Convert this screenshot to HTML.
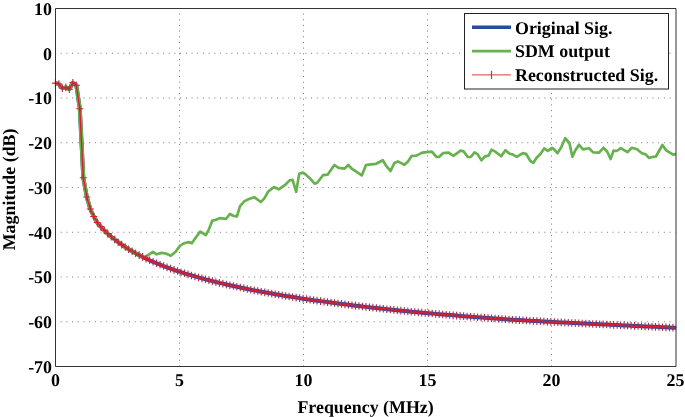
<!DOCTYPE html>
<html><head><meta charset="utf-8"><style>
html,body{margin:0;padding:0;background:#fff;}
body{width:685px;height:417px;overflow:hidden;}
svg{display:block;filter:blur(0.3px);}
text{text-rendering:geometricPrecision;font-family:"Liberation Serif",serif;font-weight:bold;fill:#000;}
</style></head><body>
<svg width="685" height="417" viewBox="0 0 685 417">
<rect width="685" height="417" fill="#fff"/>
<defs><clipPath id="c"><rect x="55" y="8" width="621" height="359"/></clipPath></defs>
<path d="M55.5 53.25H675.5M55.5 98H675.5M55.5 142.75H675.5M55.5 187.5H675.5M55.5 232.25H675.5M55.5 277H675.5M55.5 321.75H675.5" stroke="#777" stroke-width="1" stroke-dasharray="1 4.69" stroke-dashoffset="0.5" fill="none"/>
<path d="M179.5 8.5V366.5M303.5 8.5V366.5M427.5 8.5V366.5M551.5 8.5V366.5" stroke="#777" stroke-width="1" stroke-dasharray="1 4.675" stroke-dashoffset="0.6" fill="none"/>
<g clip-path="url(#c)" fill="none" stroke-linejoin="round" stroke-linecap="butt">
<path d="M55.4 83.1 L58.89 84 L62.38 88.3 L65.87 87.4 L69.36 89.2 L72.84 82.8 L76.33 85.3 L79.82 108.8 L83.31 177.8 L86.8 197 L90.29 209 L93.78 216.5 L97.27 222.44 L100.76 226.69 L104.25 230.31 L107.73 233.63 L111.22 236.69 L114.71 239.53 L118.2 242.18 L121.69 244.66 L125.18 246.99 L128.67 249.19 L132.16 251.27 L135.65 253.25 L139.14 255.12 L142.62 256.91 L146.11 258.62 L149.6 260.26 L153.09 261.8 L156.58 263.28 L160.07 264.7 L163.56 266.07 L167.05 267.38 L170.54 268.65 L174.03 269.88 L177.51 271.06 L181 272.21 L184.49 273.32 L187.98 274.39 L191.47 275.44 L194.96 276.45 L198.45 277.43 L201.94 278.39 L205.43 279.31 L208.92 280.22 L212.41 281.11 L215.89 281.99 L219.38 282.84 L222.87 283.67 L226.36 284.49 L229.85 285.28 L233.34 286.06 L236.83 286.81 L240.32 287.56 L243.81 288.28 L247.29 288.99 L250.78 289.69 L254.27 290.37 L257.76 291.04 L261.25 291.69 L264.74 292.33 L268.23 292.96 L271.72 293.58 L275.21 294.18 L278.7 294.77 L282.19 295.36 L285.67 295.93 L289.16 296.49 L292.65 297.04 L296.14 297.59 L299.63 298.12 L303.12 298.65 L306.61 299.16 L310.1 299.67 L313.59 300.17 L317.07 300.66 L320.56 301.14 L324.05 301.62 L327.54 302.09 L331.03 302.55 L334.52 303.01 L338.01 303.46 L341.5 303.91 L344.99 304.35 L348.48 304.79 L351.96 305.22 L355.45 305.64 L358.94 306.05 L362.43 306.46 L365.92 306.87 L369.41 307.27 L372.9 307.66 L376.39 308.05 L379.88 308.44 L383.37 308.82 L386.85 309.19 L390.34 309.56 L393.83 309.92 L397.32 310.28 L400.81 310.64 L404.3 310.99 L407.79 311.33 L411.28 311.68 L414.77 312.01 L418.26 312.33 L421.74 312.64 L425.23 312.96 L428.72 313.27 L432.21 313.57 L435.7 313.87 L439.19 314.17 L442.68 314.47 L446.17 314.76 L449.66 315.05 L453.15 315.33 L456.63 315.61 L460.12 315.89 L463.61 316.17 L467.1 316.44 L470.59 316.71 L474.08 316.97 L477.57 317.24 L481.06 317.49 L484.55 317.75 L488.04 318.01 L491.52 318.26 L495.01 318.51 L498.5 318.75 L501.99 318.99 L505.48 319.23 L508.97 319.47 L512.46 319.7 L515.95 319.91 L519.44 320.12 L522.93 320.32 L526.41 320.52 L529.9 320.72 L533.39 320.92 L536.88 321.11 L540.37 321.31 L543.86 321.5 L547.35 321.68 L550.84 321.87 L554.33 322.05 L557.82 322.23 L561.3 322.41 L564.79 322.59 L568.28 322.77 L571.77 322.94 L575.26 323.11 L578.75 323.28 L582.24 323.45 L585.73 323.61 L589.22 323.78 L592.71 323.94 L596.19 324.1 L599.68 324.26 L603.17 324.41 L606.66 324.57 L610.15 324.72 L613.64 324.89 L617.13 325.06 L620.62 325.23 L624.11 325.4 L627.6 325.57 L631.08 325.74 L634.57 325.91 L638.06 326.07 L641.55 326.24 L645.04 326.4 L648.53 326.56 L652.02 326.72 L655.51 326.87 L659 327.03 L662.49 327.18 L665.97 327.34 L669.46 327.49 L672.95 327.64 L676.44 327.79" stroke="#2c4a9c" stroke-width="4"/>
<path d="M55.4 83.1 L58.89 84 L62.38 88.3 L65.87 87.4 L69.36 89.2 L72.84 82.8 L76.33 85.3 L79.82 108.8 L83.31 177.8 L86.8 197 L90.29 209 L93.78 216.5 L97.27 222.44 L100.76 226.69 L104.25 230.31 L107.73 233.63 L111.22 236.69 L114.71 239.53 L118.2 242.18 L121.69 244.66 L125.18 246.99 L128.67 249.19 L132.16 251.27 L135.65 253.25 L139.14 255.12 L142.62 256.91" stroke="#66b24e" stroke-width="4"/>
<path d="M142.62 256.91 L145.9 256.7 L152.9 251.8 L156.7 254.3 L161.6 252.9 L165.9 253.5 L170.8 255.8 L175.6 251.8 L179.9 245.9 L184.2 243.2 L188.6 242.1 L191.8 243.2 L195.6 237.8 L200.2 231.6 L205.8 235 L208.8 229.6 L212.4 220.6 L215.4 220 L219.6 218.2 L226.2 218.8 L229.8 214 L233.4 215.8 L237 216.4 L240 206.2 L244.2 201.4 L249 199 L254.2 197.2 L260.8 202 L264.4 198.4 L268 191.8 L274 187 L278.8 189.4 L284.8 185.2 L289.6 180.4 L292.6 179.8 L296.2 191.8 L299.2 173.8 L302.8 172.6 L305 174 L309.8 178.2 L314.6 183.6 L317 183 L323 175.2 L327.8 174.6 L334.4 165 L338.6 167.8 L344.6 168.6 L348.2 165 L352.4 169.2 L355.4 171 L361.8 175.4 L366 165 L370.8 164.4 L376.2 163.8 L382.8 160.2 L386.4 166.2 L390.6 171 L394.2 163.2 L397.8 161.4 L404.4 164.8 L408 161.4 L411.6 156 L416.4 155.6 L422.2 152.6 L427 152.2 L431.8 151.6 L436.6 157 L439 157 L443.2 153 L448.6 152.6 L453.4 155.8 L460.6 150.6 L463.6 151.4 L467.8 157 L470.8 157 L474.6 152.4 L477.8 154.4 L481.4 160.4 L485 156.4 L488.6 155.6 L491.6 149.6 L495.2 151.6 L501.2 156.2 L505.4 150.2 L509.6 153.8 L512.6 154.4 L516.8 156.8 L522.8 153.2 L526 153.8 L530.4 161 L533.4 162.8 L536.4 158 L540.6 153.8 L544.2 148.4 L547.8 150.8 L552 147.8 L554.4 149.6 L557.4 153.2 L561 147.8 L565.2 138.2 L569.4 143 L572.4 156.8 L575.4 150.2 L579 144.8 L583 149.4 L589 148.2 L593.2 152.4 L599.2 152.6 L603.4 147.8 L607 151.2 L610.6 159 L613.6 150.6 L616.6 151 L620.8 148.2 L627.4 152.2 L631.8 147.8 L637 149.2 L641.9 153.3 L645.7 154.4 L648.9 157.9 L651.6 157.2 L655.9 156.5 L662.4 145 L666.2 150.4 L673.2 154.7 L676 153.9" stroke="#66b24e" stroke-width="2.7"/>
<path d="M55.4 83.1 L58.89 84 L62.38 88.3 L65.87 87.4 L69.36 89.2 L72.84 82.8 L76.33 85.3 L79.82 108.8 L83.31 177.8 L86.8 197 L90.29 209 L93.78 216.5 L97.27 222.44 L100.76 226.69 L104.25 230.31 L107.73 233.63 L111.22 236.69 L114.71 239.53 L118.2 242.18 L121.69 244.66 L125.18 246.99 L128.67 249.19 L132.16 251.27 L135.65 253.25 L139.14 255.12 L142.62 256.91 L146.11 258.62 L149.6 260.26 L153.09 261.8 L156.58 263.28 L160.07 264.7 L163.56 266.07 L167.05 267.38 L170.54 268.65 L174.03 269.88 L177.51 271.06 L181 272.21 L184.49 273.32 L187.98 274.39 L191.47 275.44 L194.96 276.45 L198.45 277.43 L201.94 278.39 L205.43 279.31 L208.92 280.22 L212.41 281.11 L215.89 281.99 L219.38 282.84 L222.87 283.67 L226.36 284.49 L229.85 285.28 L233.34 286.06 L236.83 286.81 L240.32 287.56 L243.81 288.28 L247.29 288.99 L250.78 289.69 L254.27 290.37 L257.76 291.04 L261.25 291.69 L264.74 292.33 L268.23 292.96 L271.72 293.58 L275.21 294.18 L278.7 294.77 L282.19 295.36 L285.67 295.93 L289.16 296.49 L292.65 297.04 L296.14 297.59 L299.63 298.12 L303.12 298.65 L306.61 299.16 L310.1 299.67 L313.59 300.17 L317.07 300.66 L320.56 301.14 L324.05 301.62 L327.54 302.09 L331.03 302.55 L334.52 303.01 L338.01 303.46 L341.5 303.91 L344.99 304.35 L348.48 304.79 L351.96 305.22 L355.45 305.64 L358.94 306.05 L362.43 306.46 L365.92 306.87 L369.41 307.27 L372.9 307.66 L376.39 308.05 L379.88 308.44 L383.37 308.82 L386.85 309.19 L390.34 309.56 L393.83 309.92 L397.32 310.28 L400.81 310.64 L404.3 310.99 L407.79 311.33 L411.28 311.68 L414.77 312.01 L418.26 312.33 L421.74 312.64 L425.23 312.96 L428.72 313.27 L432.21 313.57 L435.7 313.87 L439.19 314.17 L442.68 314.47 L446.17 314.76 L449.66 315.05 L453.15 315.33 L456.63 315.61 L460.12 315.89 L463.61 316.17 L467.1 316.44 L470.59 316.71 L474.08 316.97 L477.57 317.24 L481.06 317.49 L484.55 317.75 L488.04 318.01 L491.52 318.26 L495.01 318.51 L498.5 318.75 L501.99 318.99 L505.48 319.23 L508.97 319.47 L512.46 319.7 L515.95 319.91 L519.44 320.12 L522.93 320.32 L526.41 320.52 L529.9 320.72 L533.39 320.92 L536.88 321.11 L540.37 321.31 L543.86 321.5 L547.35 321.68 L550.84 321.87 L554.33 322.05 L557.82 322.23 L561.3 322.41 L564.79 322.59 L568.28 322.77 L571.77 322.94 L575.26 323.11 L578.75 323.28 L582.24 323.45 L585.73 323.61 L589.22 323.78 L592.71 323.94 L596.19 324.1 L599.68 324.26 L603.17 324.41 L606.66 324.57 L610.15 324.72 L613.64 324.89 L617.13 325.06 L620.62 325.23 L624.11 325.4 L627.6 325.57 L631.08 325.74 L634.57 325.91 L638.06 326.07 L641.55 326.24 L645.04 326.4 L648.53 326.56 L652.02 326.72 L655.51 326.87 L659 327.03 L662.49 327.18 L665.97 327.34 L669.46 327.49 L672.95 327.64 L676.44 327.79" stroke="#e01a2a" stroke-width="1.4"/>
</g>
<path d="M51.9 83.1h7M55.39 84h7M58.88 88.3h7M62.37 87.4h7M65.86 89.2h7M69.34 82.8h7M72.83 85.3h7M76.32 108.8h7M79.81 177.8h7M83.3 197h7M86.79 209h7M90.28 216.5h7M93.77 222.44h7M97.26 226.69h7M100.75 230.31h7M104.23 233.63h7M107.72 236.69h7M111.21 239.53h7M114.7 242.18h7M118.19 244.66h7M121.68 246.99h7M125.17 249.19h7M128.66 251.27h7M132.15 253.25h7M135.64 255.12h7M139.12 256.91h7M142.61 258.62h7M146.1 260.26h7M149.59 261.8h7M153.08 263.28h7M156.57 264.7h7M160.06 266.07h7M163.55 267.38h7M167.04 268.65h7M170.53 269.88h7M174.01 271.06h7M177.5 272.21h7M180.99 273.32h7M184.48 274.39h7M187.97 275.44h7M191.46 276.45h7M194.95 277.43h7M198.44 278.39h7M201.93 279.31h7M205.42 280.22h7M208.91 281.11h7M212.39 281.99h7M215.88 282.84h7M219.37 283.67h7M222.86 284.49h7M226.35 285.28h7M229.84 286.06h7M233.33 286.81h7M236.82 287.56h7M240.31 288.28h7M243.79 288.99h7M247.28 289.69h7M250.77 290.37h7M254.26 291.04h7M257.75 291.69h7M261.24 292.33h7M264.73 292.96h7M268.22 293.58h7M271.71 294.18h7M275.2 294.77h7M278.69 295.36h7M282.17 295.93h7M285.66 296.49h7M289.15 297.04h7M292.64 297.59h7M296.13 298.12h7M299.62 298.65h7M303.11 299.16h7M306.6 299.67h7M310.09 300.17h7M313.57 300.66h7M317.06 301.14h7M320.55 301.62h7M324.04 302.09h7M327.53 302.55h7M331.02 303.01h7M334.51 303.46h7M338 303.91h7M341.49 304.35h7M344.98 304.79h7M348.46 305.22h7M351.95 305.64h7M355.44 306.05h7M358.93 306.46h7M362.42 306.87h7M365.91 307.27h7M369.4 307.66h7M372.89 308.05h7M376.38 308.44h7M379.87 308.82h7M383.35 309.19h7M386.84 309.56h7M390.33 309.92h7M393.82 310.28h7M397.31 310.64h7M400.8 310.99h7M404.29 311.33h7M407.78 311.68h7M411.27 312.01h7M414.76 312.33h7M418.24 312.64h7M421.73 312.96h7M425.22 313.27h7M428.71 313.57h7M432.2 313.87h7M435.69 314.17h7M439.18 314.47h7M442.67 314.76h7M446.16 315.05h7M449.65 315.33h7M453.13 315.61h7M456.62 315.89h7M460.11 316.17h7M463.6 316.44h7M467.09 316.71h7M470.58 316.97h7M474.07 317.24h7M477.56 317.49h7M481.05 317.75h7M484.54 318.01h7M488.02 318.26h7M491.51 318.51h7M495 318.75h7M498.49 318.99h7M501.98 319.23h7M505.47 319.47h7M508.96 319.7h7M512.45 319.91h7M515.94 320.12h7M519.43 320.32h7M522.91 320.52h7M526.4 320.72h7M529.89 320.92h7M533.38 321.11h7M536.87 321.31h7M540.36 321.5h7M543.85 321.68h7M547.34 321.87h7M550.83 322.05h7M554.32 322.23h7M557.8 322.41h7M561.29 322.59h7M564.78 322.77h7M568.27 322.94h7M571.76 323.11h7M575.25 323.28h7M578.74 323.45h7M582.23 323.61h7M585.72 323.78h7M589.21 323.94h7M592.69 324.1h7M596.18 324.26h7M599.67 324.41h7M603.16 324.57h7M606.65 324.72h7M610.14 324.89h7M613.63 325.06h7M617.12 325.23h7M620.61 325.4h7M624.1 325.57h7M627.58 325.74h7M631.07 325.91h7M634.56 326.07h7M638.05 326.24h7M641.54 326.4h7M645.03 326.56h7M648.52 326.72h7M652.01 326.87h7M655.5 327.03h7M658.99 327.18h7M662.47 327.34h7M665.96 327.49h7M669.45 327.64h7" stroke="#e01a2a" stroke-width="1.1" fill="none"/>
<path d="M55.4 79.3v7.6M58.89 80.2v7.6M62.38 84.5v7.6M65.87 83.6v7.6M69.36 85.4v7.6M72.84 79v7.6M76.33 81.5v7.6M79.82 105v7.6M83.31 174v7.6M86.8 193.2v7.6M90.29 205.2v7.6M93.78 212.7v7.6M97.27 218.64v7.6M100.76 222.89v7.6M104.25 226.51v7.6M107.73 229.83v7.6M111.22 232.89v7.6M114.71 235.73v7.6M118.2 238.38v7.6M121.69 240.86v7.6M125.18 243.19v7.6M128.67 245.39v7.6M132.16 247.47v7.6M135.65 249.45v7.6M139.14 251.32v7.6M142.62 253.11v7.6M146.11 254.82v7.6M149.6 256.46v7.6M153.09 258v7.6M156.58 259.48v7.6M160.07 260.9v7.6M163.56 262.27v7.6M167.05 263.58v7.6M170.54 264.85v7.6M174.03 266.08v7.6M177.51 267.26v7.6M181 268.41v7.6M184.49 269.52v7.6M187.98 270.59v7.6M191.47 271.64v7.6M194.96 272.65v7.6M198.45 273.63v7.6M201.94 274.59v7.6M205.43 275.51v7.6M208.92 276.42v7.6M212.41 277.31v7.6M215.89 278.19v7.6M219.38 279.04v7.6M222.87 279.87v7.6M226.36 280.69v7.6M229.85 281.48v7.6M233.34 282.26v7.6M236.83 283.01v7.6M240.32 283.76v7.6M243.81 284.48v7.6M247.29 285.19v7.6M250.78 285.89v7.6M254.27 286.57v7.6M257.76 287.24v7.6M261.25 287.89v7.6M264.74 288.53v7.6M268.23 289.16v7.6M271.72 289.78v7.6M275.21 290.38v7.6M278.7 290.97v7.6M282.19 291.56v7.6M285.67 292.13v7.6M289.16 292.69v7.6M292.65 293.24v7.6M296.14 293.79v7.6M299.63 294.32v7.6M303.12 294.85v7.6M306.61 295.36v7.6M310.1 295.87v7.6M313.59 296.37v7.6M317.07 296.86v7.6M320.56 297.34v7.6M324.05 297.82v7.6M327.54 298.29v7.6M331.03 298.75v7.6M334.52 299.21v7.6M338.01 299.66v7.6M341.5 300.11v7.6M344.99 300.55v7.6M348.48 300.99v7.6M351.96 301.42v7.6M355.45 301.84v7.6M358.94 302.25v7.6M362.43 302.66v7.6M365.92 303.07v7.6M369.41 303.47v7.6M372.9 303.86v7.6M376.39 304.25v7.6M379.88 304.64v7.6M383.37 305.02v7.6M386.85 305.39v7.6M390.34 305.76v7.6M393.83 306.12v7.6M397.32 306.48v7.6M400.81 306.84v7.6M404.3 307.19v7.6M407.79 307.53v7.6M411.28 307.88v7.6M414.77 308.21v7.6M418.26 308.53v7.6M421.74 308.84v7.6M425.23 309.16v7.6M428.72 309.47v7.6M432.21 309.77v7.6M435.7 310.07v7.6M439.19 310.37v7.6M442.68 310.67v7.6M446.17 310.96v7.6M449.66 311.25v7.6M453.15 311.53v7.6M456.63 311.81v7.6M460.12 312.09v7.6M463.61 312.37v7.6M467.1 312.64v7.6M470.59 312.91v7.6M474.08 313.17v7.6M477.57 313.44v7.6M481.06 313.69v7.6M484.55 313.95v7.6M488.04 314.21v7.6M491.52 314.46v7.6M495.01 314.71v7.6M498.5 314.95v7.6M501.99 315.19v7.6M505.48 315.43v7.6M508.97 315.67v7.6M512.46 315.9v7.6M515.95 316.11v7.6M519.44 316.32v7.6M522.93 316.52v7.6M526.41 316.72v7.6M529.9 316.92v7.6M533.39 317.12v7.6M536.88 317.31v7.6M540.37 317.51v7.6M543.86 317.7v7.6M547.35 317.88v7.6M550.84 318.07v7.6M554.33 318.25v7.6M557.82 318.43v7.6M561.3 318.61v7.6M564.79 318.79v7.6M568.28 318.97v7.6M571.77 319.14v7.6M575.26 319.31v7.6M578.75 319.48v7.6M582.24 319.65v7.6M585.73 319.81v7.6M589.22 319.98v7.6M592.71 320.14v7.6M596.19 320.3v7.6M599.68 320.46v7.6M603.17 320.61v7.6M606.66 320.77v7.6M610.15 320.92v7.6M613.64 321.09v7.6M617.13 321.26v7.6M620.62 321.43v7.6M624.11 321.6v7.6M627.6 321.77v7.6M631.08 321.94v7.6M634.57 322.11v7.6M638.06 322.27v7.6M641.55 322.44v7.6M645.04 322.6v7.6M648.53 322.76v7.6M652.02 322.92v7.6M655.51 323.07v7.6M659 323.23v7.6M662.49 323.38v7.6M665.97 323.54v7.6M669.46 323.69v7.6M672.95 323.84v7.6" stroke="#b02c48" stroke-width="1.1" fill="none"/>
<path d="M55.5 8.5H676M55.5 366.5H676M55.5 8.5V366.5M676 8.5V366.5" stroke="#333" stroke-width="1" fill="none"/>
<g font-size="17.9" text-anchor="end"><text x="52" y="14.8">10</text><text x="52" y="59.55">0</text><text x="52" y="104.3">-10</text><text x="52" y="149.05">-20</text><text x="52" y="193.8">-30</text><text x="52" y="238.55">-40</text><text x="52" y="283.3">-50</text><text x="52" y="328.05">-60</text><text x="52" y="372.8">-70</text></g>
<g font-size="17.9" text-anchor="middle"><text x="55.5" y="386.2">0</text><text x="179.5" y="386.2">5</text><text x="303.5" y="386.2">10</text><text x="427.5" y="386.2">15</text><text x="551.5" y="386.2">20</text><text x="675.5" y="386.2">25</text></g>
<text x="365.6" y="412.8" font-size="17.9" text-anchor="middle">Frequency (MHz)</text>
<text transform="translate(14.8 189.4) rotate(-90)" font-size="17.9" text-anchor="middle">Magnitude (dB)</text>
<rect x="464.5" y="13.5" width="204" height="75.5" fill="#fff" stroke="#222" stroke-width="1"/>
<path d="M472 27.3H511" stroke="#2c4a9c" stroke-width="3.5"/>
<path d="M472 51.1H511" stroke="#66b24e" stroke-width="2.7"/>
<path d="M472 74.8H511" stroke="#e5605f" stroke-width="1.3"/>
<path d="M491.5 70.8V79" stroke="#8a4a70" stroke-width="1.2"/>
<g font-size="17.9"><text x="515" y="33.6">Original Sig.</text><text x="515" y="57.4">SDM output</text><text x="515" y="81">Reconstructed Sig.</text></g>
</svg>
</body></html>
